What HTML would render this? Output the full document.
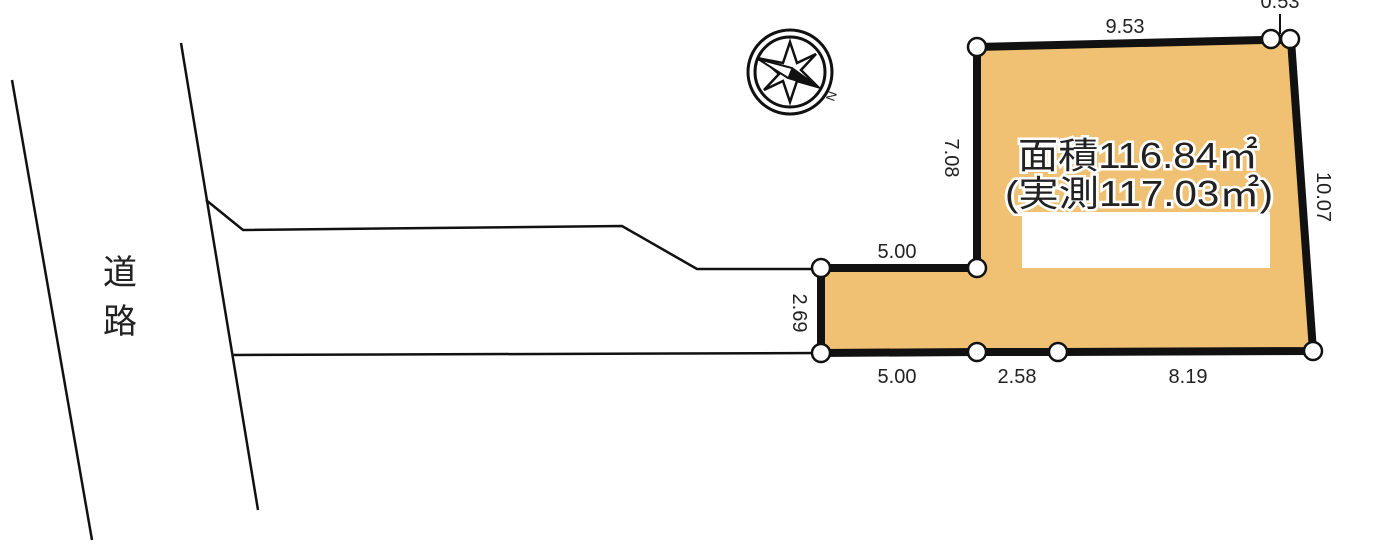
<!DOCTYPE html>
<html><head><meta charset="utf-8"><style>
html,body{margin:0;padding:0;background:#fff;width:1392px;height:547px;overflow:hidden}
svg text{font-family:"Liberation Sans","Noto Sans CJK JP",sans-serif;fill:#222}
</style></head><body>
<svg width="1392" height="547" viewBox="0 0 1392 547" xmlns="http://www.w3.org/2000/svg">
<g stroke="#111" stroke-width="2.5" fill="none">
<line x1="12" y1="80" x2="92" y2="540"/>
<line x1="181" y1="43" x2="258" y2="510"/>
<polyline points="206,200 243,230 622,226 697,269 821,269"/>
<line x1="232" y1="355" x2="821" y2="353"/>
</g>
<polygon points="977,47 1263,40 1291,40 1313,351 1058,352 977,352 821,353 821,268 977,268" fill="#F0C172" stroke="#111" stroke-width="8" stroke-linejoin="miter"/>
<rect x="1022" y="212" width="248" height="56" fill="#fff"/>
<line x1="1280" y1="14" x2="1280" y2="34" stroke="#111" stroke-width="2"/>
<g fill="#fff" stroke="#111" stroke-width="2.5">
<circle cx="977" cy="47" r="9"/><circle cx="1271" cy="39" r="9"/><circle cx="1290" cy="39" r="9"/>
<circle cx="1313" cy="351" r="9"/><circle cx="1058" cy="352" r="9"/><circle cx="977" cy="352" r="9"/>
<circle cx="821" cy="353" r="9"/><circle cx="821" cy="268" r="9"/><circle cx="977" cy="268" r="9"/>
</g>
<g font-size="20" text-anchor="middle">
<text x="1125" y="33">9.53</text>
<text x="1280" y="8">0.53</text>
<text x="897" y="258">5.00</text>
<text x="897" y="383">5.00</text>
<text x="1017" y="383">2.58</text>
<text x="1188" y="383">8.19</text>
<text transform="translate(945,158) rotate(90)">7.08</text>
<text transform="translate(1317,197) rotate(90)">10.07</text>
<text transform="translate(793,313) rotate(90)">2.69</text>
</g>
<g font-size="36" stroke="#fff" stroke-width="5" paint-order="stroke">
<text x="1018" y="168" textLength="240" lengthAdjust="spacingAndGlyphs">面積116.84㎡</text>
<text x="1005" y="206" textLength="268" lengthAdjust="spacingAndGlyphs">(実測117.03㎡)</text>
</g>
<text x="120" y="284" font-size="34" text-anchor="middle">道</text>
<text x="120" y="333" font-size="34" text-anchor="middle">路</text>
<g transform="translate(790,72)" stroke="#111" fill="none" stroke-width="3">
<circle r="42"/><circle r="35"/>
<polygon points="0,-30 7,-9 26,-18 11,-2 28,15 7,9 0,30 -7,9 -26,18 -11,2 -28,-13 -7,-9" fill="#fff" stroke-width="2.5"/>
<polygon points="-32,-13 2,-4 28,15 -2,6" fill="#fff" stroke-width="2"/>
<polygon points="2,-4 28,15 -2,6" fill="#111" stroke-width="1"/>
<text x="44" y="30" font-size="13" fill="#111" stroke="none" transform="rotate(-70 44 30)">N</text>
</g>
</svg>
</body></html>
